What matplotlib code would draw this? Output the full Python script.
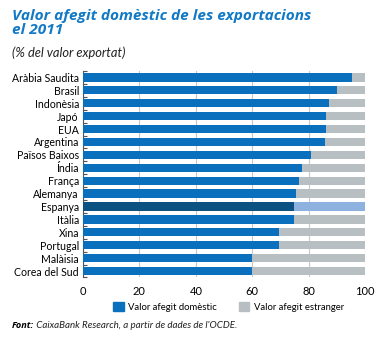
import numpy as np
import matplotlib
matplotlib.use('Agg')
import matplotlib.pyplot as plt
from matplotlib.patches import Patch
from matplotlib.transforms import offset_copy

countries = ['Aràbia Saudita', 'Brasil', 'Indonèsia', 'Japó', 'EUA', 'Argentina',
             'Països Baixos', 'Índia', 'França', 'Alemanya', 'Espanya', 'Itàlia',
             'Xina', 'Portugal', 'Malàisia', 'Corea del Sud']
domestic = [95.3, 90.0, 87.2, 86.2, 86.2, 85.9, 80.9, 77.5, 76.6, 75.7, 74.9,
            74.9, 69.6, 69.4, 59.8, 59.8]
foreign = [100 - v for v in domestic]
xticks = [0, 20, 40, 60, 80, 100]

blue = '#0a70bd'
dark_blue = '#0b5282'
grey = '#b7bfc3'
light_blue = '#8db2df'
title_blue = '#1279c6'

plt.rcParams['font.family'] = ['Lato', 'DejaVu Sans']

fig = plt.figure(figsize=(3.81, 3.38), dpi=100)
ax = fig.add_axes([0.218, 0.179, 0.740, 0.611])

y = np.arange(len(countries))
c_dom = [dark_blue if c == 'Espanya' else blue for c in countries]
c_for = [light_blue if c == 'Espanya' else grey for c in countries]
ax.barh(y, domestic, height=0.64, color=c_dom, zorder=3)
ax.barh(y, foreign, left=domestic, height=0.64, color=c_for, zorder=3)

ax.set_xlim(0, 100)
ax.set_ylim(len(countries) - 0.5, -0.5)
ax.set_yticks(y)
ax.set_yticklabels(countries, fontsize=7.6)
ax.set_yticks(np.arange(-0.5, len(countries), 1), minor=True)
ax.tick_params(axis='y', which='major', length=0, pad=3)
ax.tick_params(axis='y', which='minor', length=3, direction='in', color='#555555', width=0.8)
ax.set_xticks(xticks)
ax.tick_params(axis='x', length=0, labelsize=8, pad=6)
ax.xaxis.grid(True, color='#c8c8c8', lw=0.8, zorder=0)
for s in ['top', 'right', 'bottom']:
    ax.spines[s].set_visible(False)
ax.spines['left'].set_color('#555555')
ax.spines['left'].set_linewidth(0.8)

handles = [Patch(color=blue, label='Valor afegit domèstic'),
           Patch(color=grey, label='Valor afegit estranger')]
fig.legend(handles=handles, loc='center', bbox_to_anchor=(0.6, 0.092), ncol=2,
           frameon=False, fontsize=6.8, handlelength=1.1, handleheight=1.1,
           columnspacing=2.3, handletextpad=0.5)

fig.text(0.031, 0.972, 'Valor afegit domèstic de les exportacions\nel 2011',
         color=title_blue, fontsize=11.1, fontweight='bold', style='italic',
         family=['Open Sans', 'DejaVu Sans'], va='top', linespacing=0.95)
fig.text(0.031, 0.843, '(% del valor exportat)', fontsize=9.3, style='italic',
         va='center', color='#222222')

src = fig.text(0.031, 0.037, 'Font:', fontsize=6.6, style='italic',
               fontweight='bold', family=['Open Sans', 'DejaVu Sans'], va='center')
fig.canvas.draw()
w = src.get_window_extent().width
fig.text(0.031, 0.037, ' CaixaBank Research, a partir de dades de l\'OCDE.',
         fontsize=7, style='italic', va='center', color='#222222',
         transform=offset_copy(fig.transFigure, fig=fig, x=w, y=0, units='dots'))

fig.savefig('out.png', dpi=100)
